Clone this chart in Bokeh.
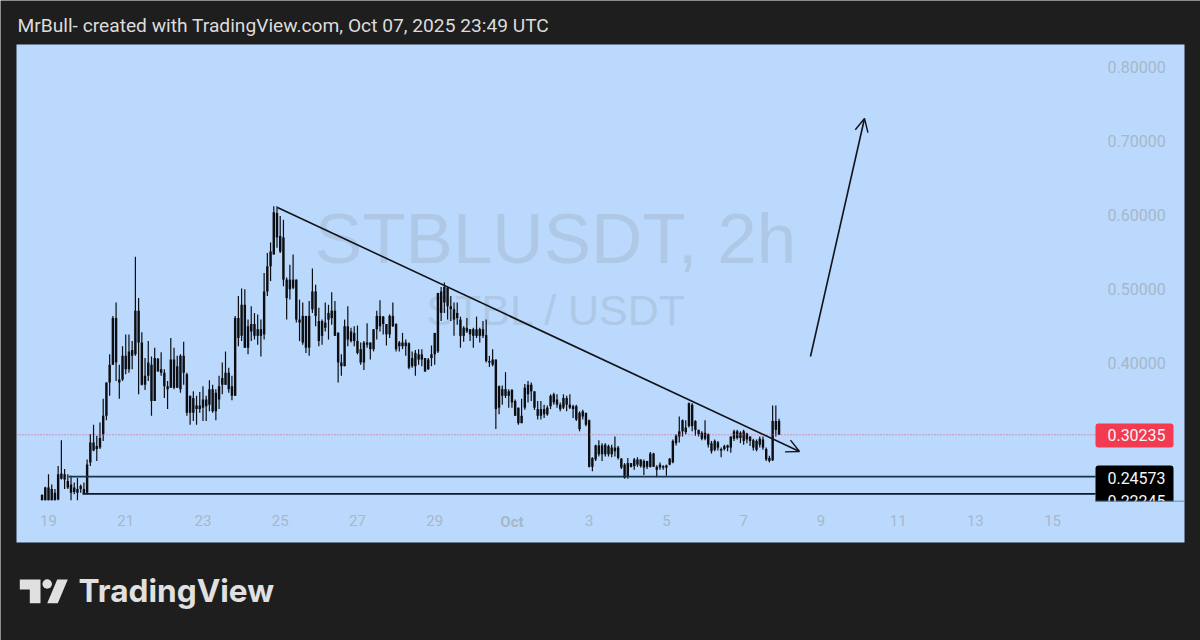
from bokeh.plotting import figure
from bokeh.models import Range1d, LinearAxis, FixedTicker, Arrow, OpenHead
from bokeh.embed import file_html
from bokeh.resources import INLINE

# ---------- chart data ----------
first_candle_day = 18.8333   # Sep 18, 20:00, in "days of September"
candle_step = 1 / 12         # 2h candles
high = [.222,.232,.249,.235,.229,.260,.295,.256,.249,.247,.238,.244,.235,.238,.269,.303,.316,.301,.319,.351,.373,.411,.463,.481,.397,.422,.438,.438,.429,.543,
.487,.441,.406,.429,.408,.420,.406,.414,.391,.375,.433,.420,.409,.411,.428,.386,.355,.361,.355,.360,.368,.355,.376,.370,.364,.382,.400,.415,.393,.382,
.463,.490,.500,.499,.458,.476,.467,.465,.458,.521,.548,.562,.611,.611,.598,.593,.515,.532,.546,.512,.485,.481,.463,.483,.527,.505,.474,.458,.481,.478,
.495,.483,.441,.411,.458,.476,.447,.449,.450,.427,.429,.453,.427,.445,.470,.484,.463,.452,.465,.481,.453,.429,.440,.431,.427,.415,.417,.418,.418,.406,
.406,.423,.440,.494,.502,.508,.502,.490,.481,.481,.462,.449,.460,.445,.447,.462,.447,.456,.458,.409,.418,.404,.369,.369,.387,.364,.364,.350,.339,.351,
.371,.375,.373,.361,.348,.348,.343,.342,.357,.359,.357,.346,.357,.355,.357,.343,.343,.334,.336,.332,.323,.272,.289,.295,.291,.291,.289,.289,.300,.287,
.271,.264,.271,.264,.271,.272,.269,.269,.267,.279,.278,.261,.265,.261,.262,.271,.296,.303,.327,.323,.322,.346,.345,.322,.309,.307,.322,.304,.294,.296,
.294,.285,.289,.289,.300,.309,.309,.307,.309,.305,.300,.297,.296,.300,.300,.285,.274,.342,.342,.324]
low = [.214,.214,.214,.214,.214,.214,.242,.229,.229,.214,.222,.214,.224,.222,.222,.260,.280,.267,.283,.294,.322,.355,.397,.375,.351,.375,.384,.386,.391,.409,
.357,.369,.363,.375,.328,.348,.388,.382,.352,.337,.366,.364,.366,.359,.370,.328,.316,.321,.316,.332,.321,.321,.334,.332,.322,.337,.357,.370,.359,.349,
.355,.422,.429,.420,.411,.429,.431,.424,.408,.431,.490,.510,.546,.555,.548,.503,.458,.485,.499,.454,.429,.424,.413,.409,.467,.449,.422,.424,.442,.431,
.451,.436,.373,.382,.395,.422,.427,.422,.411,.397,.390,.420,.404,.415,.431,.442,.438,.423,.433,.448,.415,.415,.418,.409,.391,.393,.382,.397,.395,.387,
.390,.395,.397,.413,.456,.467,.458,.456,.436,.451,.420,.428,.440,.429,.420,.433,.427,.433,.400,.394,.395,.310,.330,.343,.352,.339,.339,.328,.316,.318,
.336,.346,.348,.336,.323,.323,.325,.328,.337,.343,.339,.334,.337,.334,.337,.325,.321,.307,.323,.314,.258,.253,.267,.273,.267,.273,.273,.272,.273,.269,
.256,.243,.243,.258,.255,.259,.258,.248,.256,.258,.259,.245,.255,.255,.247,.261,.264,.288,.292,.300,.303,.312,.307,.301,.300,.295,.295,.285,.277,.280,
.281,.272,.281,.280,.278,.294,.296,.291,.289,.291,.287,.281,.280,.285,.282,.267,.265,.267,.300,.303]
body_top = [.221,.231,.231,.229,.224,.249,.250,.249,.240,.235,.231,.229,.233,.229,.262,.292,.292,.287,.298,.328,.373,.397,.460,.460,.377,.409,.409,.415,.417,.470,
.470,.427,.382,.400,.397,.406,.405,.391,.386,.368,.404,.404,.395,.409,.409,.384,.355,.352,.342,.342,.350,.350,.364,.364,.359,.368,.379,.386,.386,.368,
.460,.460,.478,.478,.449,.452,.452,.445,.445,.496,.530,.550,.603,.602,.571,.569,.512,.512,.512,.512,.458,.463,.463,.463,.496,.496,.456,.456,.454,.467,
.470,.470,.440,.400,.449,.449,.442,.440,.429,.418,.427,.427,.427,.445,.463,.463,.462,.452,.463,.463,.452,.427,.427,.427,.426,.406,.413,.411,.411,.406,
.404,.411,.440,.494,.496,.502,.501,.476,.472,.467,.458,.447,.447,.445,.445,.445,.445,.445,.437,.402,.404,.404,.368,.364,.364,.361,.363,.348,.339,.328,
.366,.370,.370,.361,.337,.337,.337,.339,.355,.357,.350,.343,.352,.352,.343,.341,.341,.332,.334,.332,.322,.271,.288,.288,.288,.289,.287,.285,.285,.285,
.270,.262,.264,.264,.269,.269,.269,.267,.267,.277,.277,.259,.262,.260,.261,.270,.294,.301,.307,.322,.312,.345,.343,.321,.309,.305,.305,.303,.291,.294,
.292,.283,.287,.288,.300,.307,.307,.305,.307,.304,.300,.295,.294,.297,.296,.283,.271,.321,.321,.321]
body_bottom = [.214,.214,.214,.214,.214,.215,.243,.242,.231,.224,.225,.224,.229,.223,.224,.265,.281,.283,.285,.303,.328,.373,.397,.400,.373,.377,.391,.391,.409,.411,
.427,.370,.370,.382,.348,.348,.388,.386,.368,.364,.366,.366,.366,.364,.386,.332,.332,.332,.337,.337,.339,.341,.343,.334,.334,.350,.370,.370,.364,.355,
.355,.433,.436,.420,.420,.442,.436,.436,.436,.438,.496,.530,.546,.569,.550,.512,.487,.499,.501,.458,.454,.427,.420,.420,.472,.463,.429,.436,.447,.458,
.460,.436,.400,.395,.395,.431,.429,.429,.413,.400,.400,.424,.418,.418,.445,.449,.452,.438,.438,.449,.418,.422,.422,.422,.393,.395,.395,.404,.404,.388,
.391,.406,.411,.415,.467,.481,.476,.472,.458,.460,.436,.436,.442,.438,.436,.436,.436,.436,.402,.400,.397,.337,.339,.355,.355,.355,.346,.328,.318,.318,
.339,.357,.361,.339,.328,.328,.330,.330,.341,.346,.343,.337,.339,.343,.339,.337,.323,.310,.327,.316,.259,.259,.269,.276,.276,.276,.276,.276,.280,.271,
.258,.244,.246,.259,.260,.262,.260,.258,.259,.259,.259,.255,.258,.258,.258,.262,.265,.291,.300,.307,.306,.314,.314,.309,.303,.297,.297,.289,.280,.282,
.285,.281,.283,.285,.285,.297,.298,.298,.294,.296,.294,.285,.282,.289,.285,.269,.267,.268,.309,.302]

price_ticks = [0.4, 0.5, 0.6, 0.7, 0.8]
day_ticks = [19, 21, 23, 25, 27, 29, 33, 35, 37, 39, 41, 43, 45]
day_labels = ["19", "21", "23", "25", "27", "29", "3", "5", "7", "9", "11", "13", "15"]
month_tick = 31
month_label = "Oct"
last_price = 0.30235
level_upper = 0.24573
level_lower = 0.22245
header = "MrBull- created with TradingView.com, Oct 07, 2025 23:49 UTC"
watermark_1 = "STBLUSDT, 2h"
watermark_2 = "STBL / USDT"
brand = "TradingView"

# ---------- page pixels to chart units ----------
PX_DAY = 38.62
PX_PRICE = 740.0
def sx(px):
    return 19 + (px - 48) / PX_DAY
def sy(py):
    return 0.8 - (py - 66) / PX_PRICE

BG = "#1e1e1e"
PANEL = "#bbd9fd"
AXIS = "#a6b7c9"
INK = "#0c0e12"

p = figure(width=1200, height=640, output_backend="svg", toolbar_location=None,
           x_axis_type=None, y_axis_type=None,
           x_range=Range1d(sx(0), sx(1200)), y_range=Range1d(sy(640), sy(0)),
           min_border=0, min_border_left=0, min_border_right=0, min_border_top=0, min_border_bottom=0)
p.background_fill_color = BG
p.border_fill_color = BG
p.outline_line_color = None
p.grid.visible = False

# panel
p.quad(left=[sx(16)], right=[sx(1184)], bottom=[sy(542)], top=[sy(44)], fill_color=PANEL, line_color=None)

# watermarks
p.text(x=[sx(555)], y=[sy(238)], text=[watermark_1], text_font={"value": "Liberation Sans"},
       text_font_size="71px", text_color="#aec8e6", text_align="center", text_baseline="middle")
p.text(x=[sx(556)], y=[sy(309)], text=[watermark_2], text_font={"value": "Liberation Sans"},
       text_font_size="43px", text_color="#aec8e6", text_align="center", text_baseline="middle")

# axes
xaxis = LinearAxis(fixed_location=sy(507), ticker=FixedTicker(ticks=day_ticks),
                   major_label_overrides=dict(zip(day_ticks, day_labels)),
                   axis_line_color=None, major_tick_line_color=None, minor_tick_line_color=None,
                   major_label_standoff=1, major_label_text_color=AXIS,
                   major_label_text_font="Roboto", major_label_text_font_size="15px")
p.add_layout(xaxis, "below")
maxis = LinearAxis(fixed_location=sy(505), ticker=FixedTicker(ticks=[month_tick]),
                   major_label_overrides={month_tick: month_label},
                   axis_line_color=None, major_tick_line_color=None, minor_tick_line_color=None,
                   major_label_standoff=1, major_label_text_color=AXIS,
                   major_label_text_font="Roboto", major_label_text_font_style="bold",
                   major_label_text_font_size="15px")
p.add_layout(maxis, "below")
yaxis = LinearAxis(fixed_location=sx(1094), ticker=FixedTicker(ticks=price_ticks),
                   major_label_overrides={t: f"{t:.5f}" for t in price_ticks},
                   axis_line_color=None, major_tick_line_color=None, minor_tick_line_color=None,
                   major_label_standoff=7, major_label_text_color=AXIS,
                   major_label_text_font="Roboto", major_label_text_font_size="16px")
p.add_layout(yaxis, "right")

# candles
days = [first_candle_day + i * candle_step for i in range(len(high))]
p.segment(x0=days, x1=days, y0=low, y1=high, line_color=INK, line_width=1.2)
p.vbar(x=days, width=candle_step * 0.75, top=body_top, bottom=body_bottom, fill_color=INK, line_color=None)

# last price line
p.line(x=[sx(16), sx(1095)], y=[last_price, last_price],
       line_color="#d0507a", line_width=1, line_dash=[1, 2])

# level lines
p.segment(x0=[sx(68), sx(82)], x1=[sx(1095), sx(1095)], y0=[level_upper, level_lower],
          y1=[level_upper, level_lower], line_color=["#16344c", "#0b1c2c"], line_width=1.6)

# hand-drawn arrows
for a, b, c, d in [(277, 207, 799, 451), (810, 356, 864, 118)]:
    p.add_layout(Arrow(end=OpenHead(size=13, line_color="#111418", line_width=1.4),
                       x_start=sx(a), y_start=sy(b), x_end=sx(c), y_end=sy(d),
                       line_color="#111418", line_width=1.6))

# price tags
p.quad(left=[sx(1095)], right=[sx(1173)], top=[sy(423)], bottom=[sy(447)],
       fill_color="#f23a50", line_color=None, border_radius=3)
p.quad(left=[sx(1095)], right=[sx(1173)], top=[sy(465)], bottom=[sy(506)],
       fill_color="#000000", line_color=None, border_radius=3)
p.text(x=[sx(1136)] * 3, y=[last_price, sy(477), sy(500)],
       text=[f"{last_price:.5f}", f"{level_upper:.5f}", f"{level_lower:.5f}"],
       text_font={"value": "Roboto"}, text_font_size="16px",
       text_color="#f4f6f8", text_align="center", text_baseline="middle")
p.quad(left=[sx(1094)], right=[sx(1175)], top=[sy(501)], bottom=[sy(511)], fill_color=PANEL, line_color=None)
p.segment(x0=[sx(1095)], x1=[sx(1184)], y0=[sy(500.7)], y1=[sy(500.7)], line_color="#6c88a6", line_width=1)

# header and brand
p.text(x=[sx(17)], y=[sy(25)], text=[header], text_font={"value": "Roboto"}, text_font_size="19.2px",
       text_color="#dcdcdc", text_align="left", text_baseline="middle")
LOGO = "#e0e0e0"
p.patch(x=[sx(v) for v in (19.3, 40, 40, 29.3, 29.3, 19.3)],
        y=[sy(v) for v in (579, 579, 602.7, 602.7, 589, 589)], fill_color=LOGO, line_color=None)
p.patch(x=[sx(v) for v in (56.7, 67.3, 57.3, 46.7)],
        y=[sy(v) for v in (579, 579, 602.7, 602.7)], fill_color=LOGO, line_color=None)
p.scatter(x=[sx(46.7)], y=[sy(583.5)], size=9.5, marker="circle", fill_color=LOGO, line_color=None)
p.text(x=[sx(78)], y=[sy(589.5)], text=[brand], text_font={"value": "Inter"}, text_font_style="bold",
       text_font_size="31.6px", text_color=LOGO, text_align="left", text_baseline="middle")

open("out.html", "w").write(file_html(p, INLINE))
